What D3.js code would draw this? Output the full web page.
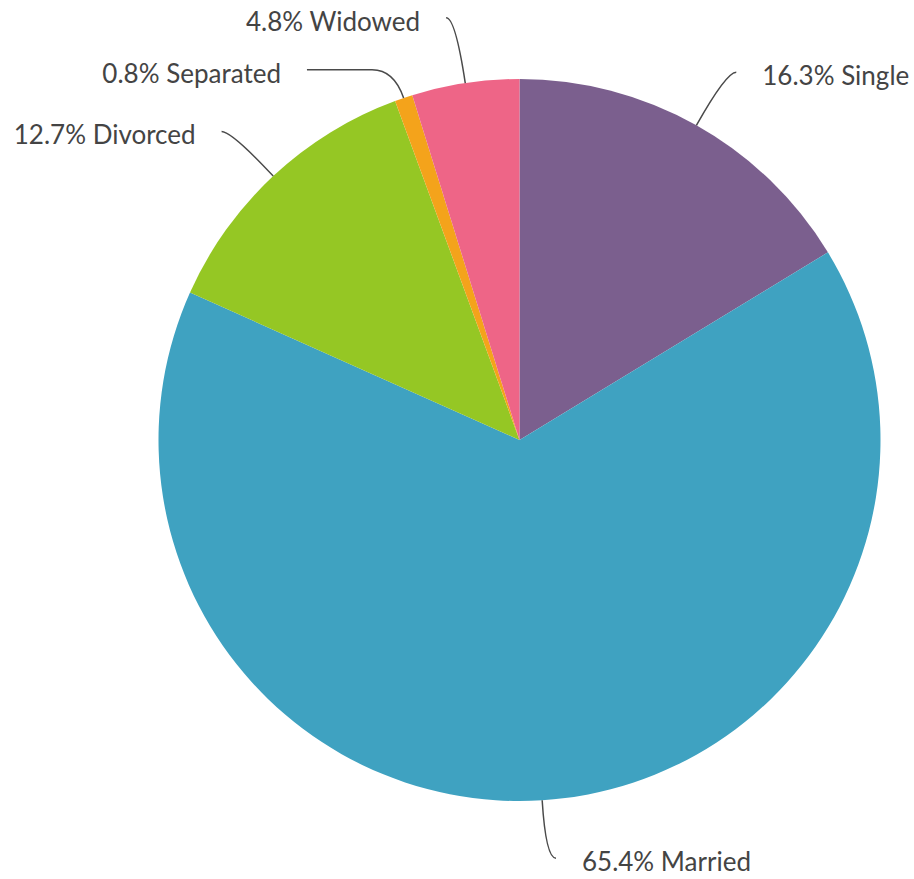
<!DOCTYPE html>
<html>
<head>
<meta charset="utf-8">
<script src="https://cdn.jsdelivr.net/npm/d3@7"></script>
<style>
html, body { margin: 0; padding: 0; background: #fff; }
svg { display: block; }
text { font-family: Lato, "Open Sans", sans-serif; }
</style>
</head>
<body>
<svg id="chart" width="914" height="879"></svg>
<script>
const categories = ["Single", "Married", "Divorced", "Separated", "Widowed"];
const values = [16.3, 65.4, 12.7, 0.8, 4.8];
const colors = ["#7b5f8e", "#3fa2c1", "#95c724", "#f4a31b", "#ee6587"];

const width = 914, height = 879;
const cx = 519.5, cy = 440, radius = 361;
const labelRadius = radius + 61;
const hookShift = 10;
const minGap = 52;
const fontSize = 26;
const baselineOffset = 13;

const svg = d3.select("#chart");
const g = svg.append("g").attr("transform", `translate(${cx},${cy})`);

const data = categories.map((c, i) => ({ name: c, value: values[i], color: colors[i] }));
const pie = d3.pie().value(d => d.value).sort(null);
const arcs = pie(data);
const arc = d3.arc().innerRadius(0).outerRadius(radius);

g.selectAll("path.slice")
  .data(arcs)
  .join("path")
  .attr("class", "slice")
  .attr("d", arc)
  .attr("fill", d => d.data.color);

// label layout: end point outside the pie, shifted toward the label side
const maxEy = height - cy - baselineOffset - fontSize * 0.3;
const labels = arcs.map(a => {
  const mid = (a.startAngle + a.endAngle) / 2;
  const side = Math.sin(mid) >= 0 ? 1 : -1;
  const ex = Math.sin(mid) * labelRadius + side * hookShift;
  let ey = -Math.cos(mid) * labelRadius - (Math.abs(Math.sin(mid)) < 0.2 && Math.cos(mid) > 0 ? 5 : 0);
  ey = Math.min(ey, maxEy);
  return { a, mid, ex, ey, side };
});
// simple collision avoidance per side (top to bottom)
[1, -1].forEach(side => {
  const group = labels.filter(l => l.side === side).sort((p, q) => p.ey - q.ey);
  for (let i = 1; i < group.length; i++) {
    if (group[i].ey - group[i - 1].ey < minGap) {
      group[i].ey = group[i - 1].ey + minGap;
      const dx = Math.sqrt(Math.max(0, labelRadius * labelRadius - group[i].ey * group[i].ey));
      group[i].ex = side * (dx + hookShift);
    }
  }
});

labels.forEach(l => {
  const px = Math.sin(l.mid) * radius, py = -Math.cos(l.mid) * radius;
  const dirx = Math.sin(l.mid), diry = -Math.cos(l.mid);
  const t = Math.abs(diry) > 0.05 ? (l.ey - py) / diry : 40;
  const ctx = px + dirx * t, cty = l.ey;
  const rem = l.ex - ctx;
  const step = Math.sign(rem) * Math.min(22, Math.abs(rem));
  const kx = ctx + step;
  const p = d3.path();
  p.moveTo(px, py);
  p.quadraticCurveTo(ctx, cty, kx, l.ey);
  p.lineTo(l.ex, l.ey);
  g.append("path")
    .attr("d", p.toString())
    .attr("fill", "none")
    .attr("stroke", "#4a4a4a")
    .attr("stroke-width", 1.5);
  g.append("text")
    .attr("x", l.ex + l.side * 26)
    .attr("y", l.ey + baselineOffset)
    .attr("text-anchor", l.side > 0 ? "start" : "end")
    .attr("font-size", fontSize)
    .attr("fill", "#444")
    .text(`${l.a.data.value.toFixed(1)}% ${l.a.data.name}`);
});
</script>
</body>
</html>
